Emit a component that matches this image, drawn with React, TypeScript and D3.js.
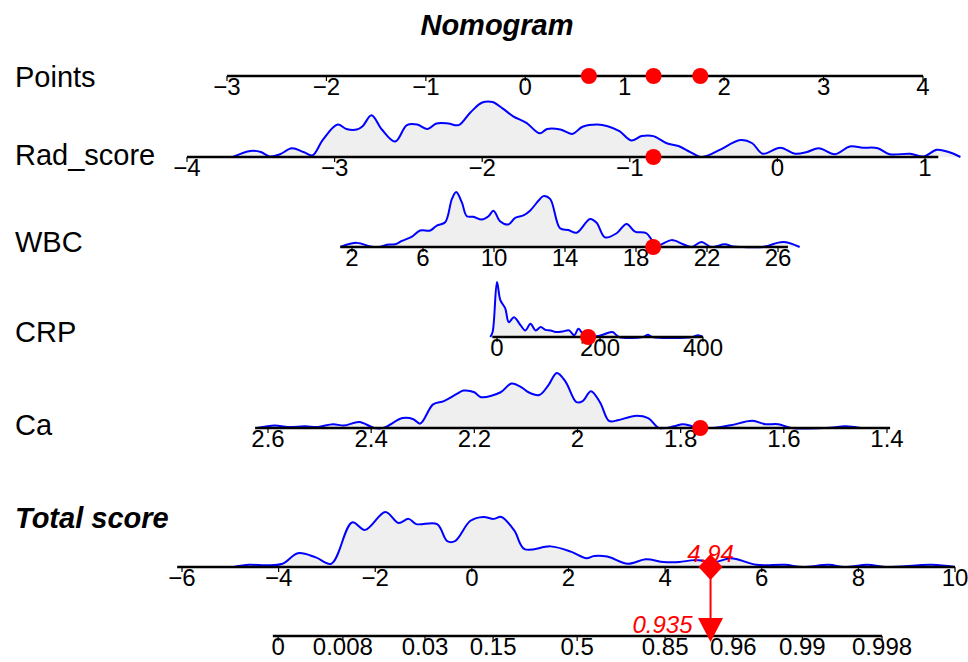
import { useEffect, useRef } from 'react';
import * as d3 from 'd3';

// axis tick values
const pointsTicks = [-3, -2, -1, 0, 1, 2, 3, 4];
const radTicks = [-4, -3, -2, -1, 0, 1];
const wbcTicks = [2, 6, 10, 14, 18, 22, 26];
const crpTicks = [0, 200, 400];
const caTicks = [2.6, 2.4, 2.2, 2, 1.8, 1.6, 1.4];
const totalTicks = [-6, -4, -2, 0, 2, 4, 6, 8, 10];
const probLabels = ['0', '0.008', '0.03', '0.15', '0.5', '0.85', '0.96', '0.99', '0.998'];
// total score at which each probability label sits
const probScores = [-4.01, -2.67, -0.97, 0.44, 2.18, 4.0, 5.41, 6.84, 8.49];

// the observation shown in red
const pointsObs = [0.64, 1.29, 1.76];
const radObs = -0.84;
const wbcObs = 18.97;
const crpObs = 177;
const caObs = 1.762;
const totalObs = 4.94;
const probObs = 0.935;

// densities: [value, relative density]
const radDensity: [number, number][] = [
  [-3.69, 0], [-3.57, 0.11], [-3.5, 0.09], [-3.44, 0.01], [-3.37, 0.05], [-3.29, 0.16], [-3.21, 0.09],
  [-3.15, 0.03], [-3.08, 0.31], [-2.98, 0.59], [-2.92, 0.51], [-2.85, 0.5], [-2.81, 0.56], [-2.75, 0.76],
  [-2.68, 0.5], [-2.59, 0.28], [-2.51, 0.58], [-2.44, 0.59], [-2.37, 0.51], [-2.31, 0.61], [-2.23, 0.61],
  [-2.16, 0.58], [-2.08, 0.81], [-2.0, 0.99], [-1.93, 1.0], [-1.86, 0.88], [-1.79, 0.74], [-1.7, 0.62],
  [-1.61, 0.43], [-1.56, 0.51], [-1.47, 0.5], [-1.39, 0.42], [-1.32, 0.55], [-1.22, 0.59], [-1.15, 0.56],
  [-1.07, 0.47], [-0.99, 0.3], [-0.92, 0.38], [-0.84, 0.38], [-0.75, 0.25], [-0.67, 0.2], [-0.59, 0.09],
  [-0.52, 0], [-0.47, 0.03], [-0.39, 0.13], [-0.25, 0.31], [-0.17, 0.25], [-0.1, 0.06], [0.02, 0.17],
  [0.12, 0.06], [0.2, 0.09], [0.28, 0.16], [0.39, 0.05], [0.49, 0.19], [0.58, 0.17], [0.68, 0.16],
  [0.76, 0.05], [0.9, 0.06], [0.99, 0.01], [1.08, 0.13], [1.16, 0.09], [1.24, 0],
];
const wbcDensity: [number, number][] = [
  [1.34, 0], [2.28, 0.075], [3.03, 0.01], [3.5, 0], [3.97, 0.04], [4.44, 0.05], [4.81, 0.11], [5.38, 0.19],
  [5.84, 0.3], [6.41, 0.3], [6.78, 0.39], [7.25, 0.45], [7.63, 0.875], [7.87, 1.0], [8.19, 0.81], [8.47, 0.56],
  [8.84, 0.55], [9.31, 0.5], [9.69, 0.56], [9.97, 0.66], [10.34, 0.47], [10.81, 0.41], [11.19, 0.53],
  [11.66, 0.575], [12.03, 0.66], [12.5, 0.84], [12.78, 0.925], [13.16, 0.875], [13.72, 0.34], [14.19, 0.31],
  [14.66, 0.26], [15.41, 0.51], [15.78, 0.44], [16.25, 0.175], [16.91, 0.25], [17.47, 0.42], [17.94, 0.28],
  [18.59, 0.25], [18.97, 0.09], [19.25, 0.03], [20.0, 0.125], [20.66, 0.05], [21.13, 0], [21.69, 0.09],
  [22.25, 0], [23.0, 0.05], [23.47, 0.01], [24.03, 0], [25.16, 0], [26.28, 0.09], [27.22, 0],
];
const crpDensity: [number, number][] = [
  [-13, 0], [-8.5, 0.09], [0, 1.0], [6.5, 0.67], [16, 0.52], [23, 0.27], [33, 0.36], [46, 0.21], [55, 0.12],
  [65, 0.24], [75, 0.12], [85, 0.18], [94, 0.13], [104, 0.12], [114, 0.09], [127, 0.1], [140, 0.12],
  [150, 0.03], [158, 0.15], [169, 0.03], [182, 0], [202, 0.03], [224, 0.09], [237, 0], [283, 0],
  [293, 0.04], [302, 0], [380, 0], [390, 0.03], [400, 0],
];
const caDensity: [number, number][] = [
  [2.621, 0], [2.587, 0.044], [2.562, 0.02], [2.528, 0.03], [2.503, 0.02], [2.474, 0.07], [2.453, 0.044],
  [2.423, 0.11], [2.394, 0], [2.377, 0], [2.339, 0.18], [2.318, 0.16], [2.305, 0.08], [2.28, 0.43],
  [2.259, 0.49], [2.234, 0.62], [2.221, 0.68], [2.2, 0.65], [2.187, 0.56], [2.149, 0.65], [2.128, 0.81],
  [2.107, 0.73], [2.095, 0.65], [2.074, 0.6], [2.057, 0.77], [2.04, 1.0], [2.023, 0.84], [2.002, 0.47],
  [1.99, 0.49], [1.974, 0.67], [1.956, 0.46], [1.939, 0.13], [1.922, 0.14], [1.889, 0.22], [1.863, 0.18],
  [1.842, 0], [1.813, 0.03], [1.796, 0.07], [1.771, 0.02], [1.737, 0], [1.703, 0.05], [1.661, 0.13],
  [1.636, 0.07], [1.611, 0.07], [1.585, 0], [1.518, 0], [1.48, 0.03], [1.451, 0],
];
const totalDensity: [number, number][] = [
  [-4.93, 0], [-4.61, 0.04], [-4.24, 0.03], [-3.92, 0.06], [-3.6, 0.25], [-3.23, 0.175], [-2.91, 0.06],
  [-2.48, 0.81], [-2.21, 0.675], [-1.79, 1.0], [-1.52, 0.8], [-1.31, 0.875], [-1.15, 0.78], [-0.72, 0.78],
  [-0.51, 0.47], [-0.35, 0.47], [-0.03, 0.84], [0.24, 0.91], [0.45, 0.875], [0.61, 0.91], [0.88, 0.66],
  [1.09, 0.325], [1.63, 0.375], [2.05, 0.28], [2.37, 0.16], [2.53, 0.2], [2.8, 0.19], [3.23, 0.06],
  [3.6, 0.14], [3.97, 0.09], [4.29, 0.09], [4.61, 0.125], [5.04, 0.09], [5.36, 0.16], [5.89, 0.04],
  [6.48, 0.04], [6.85, 0], [7.39, 0.04], [7.71, 0], [8.19, 0.04], [8.56, 0], [9.52, 0.04], [10.0, 0],
];

const fmt = (d: number) => String(d).replace('-', '\u2212');

export default function App() {
  const ref = useRef<SVGSVGElement | null>(null);

  useEffect(() => {
    document.body.style.margin = '0';
    const el = ref.current;
    if (!el) return;
    const svg = d3.select(el);
    svg.selectAll('*').remove();

    const font = '"Liberation Sans", Arial, Helvetica, sans-serif';
    const densH = 55;

    const rows = [
      { name: 'Points', ly: 87, y: 76, domain: [-3, 4], range: [227, 923], ext: [-3, 4], ticks: pointsTicks, dens: null, obs: pointsObs },
      { name: 'Rad_score', ly: 165, y: 157, domain: [-4, 1], range: [187, 925], ext: [-4, 1.09], ticks: radTicks, dens: radDensity, obs: [radObs] },
      { name: 'WBC', ly: 252, y: 247, domain: [2, 26], range: [352, 778], ext: [1.34, 26.56], ticks: wbcTicks, dens: wbcDensity, obs: [wbcObs] },
      { name: 'CRP', ly: 342, y: 337, domain: [0, 400], range: [497, 703], ext: [-9, 400], ticks: crpTicks, dens: crpDensity, obs: [crpObs] },
      { name: 'Ca', ly: 435, y: 428, domain: [2.6, 1.4], range: [268, 887], ext: [2.625, 1.394], ticks: caTicks, dens: caDensity, obs: [caObs] },
    ];

    // title
    svg.append('text')
      .attr('x', 497).attr('y', 35)
      .attr('text-anchor', 'middle')
      .attr('font-family', font).attr('font-size', 29)
      .attr('font-weight', 'bold').attr('font-style', 'italic')
      .text('Nomogram');

    const drawDensity = (dens: [number, number][], x: d3.ScaleLinear<number, number>, y0: number) => {
      const area = d3.area<[number, number]>()
        .x(d => x(d[0]))
        .y0(y0)
        .y1(d => y0 - d[1] * densH)
        .curve(d3.curveCatmullRom);
      const line = d3.line<[number, number]>()
        .x(d => x(d[0]))
        .y(d => y0 - d[1] * densH)
        .curve(d3.curveCatmullRom);
      svg.append('path').attr('d', area(dens)).attr('fill', '#efefef');
      svg.append('path').attr('d', line(dens)).attr('fill', 'none')
        .attr('stroke', '#0000ff').attr('stroke-width', 2);
    };

    const drawAxis = (x: d3.ScaleLinear<number, number>, y: number, ext: number[], ticks: number[], labels: string[]) => {
      svg.append('line')
        .attr('x1', x(ext[0])).attr('x2', x(ext[1]))
        .attr('y1', y).attr('y2', y)
        .attr('stroke', '#000').attr('stroke-width', 2.5);
      ticks.forEach((t, i) => {
        svg.append('line')
          .attr('x1', x(t)).attr('x2', x(t))
          .attr('y1', y).attr('y2', y + 5)
          .attr('stroke', '#000').attr('stroke-width', 1.2);
        svg.append('text')
          .attr('x', x(t)).attr('y', y + 19)
          .attr('text-anchor', 'middle')
          .attr('font-family', font).attr('font-size', 24)
          .text(labels[i]);
      });
    };

    rows.forEach(r => {
      const x = d3.scaleLinear().domain(r.domain).range(r.range);
      svg.append('text')
        .attr('x', 15).attr('y', r.ly)
        .attr('font-family', font).attr('font-size', 29)
        .text(r.name);
      if (r.dens) drawDensity(r.dens, x, r.y);
      drawAxis(x, r.y, r.ext, r.ticks, r.ticks.map(fmt));
      r.obs.forEach(v => {
        svg.append('circle')
          .attr('cx', x(v)).attr('cy', r.y).attr('r', 8)
          .attr('fill', '#ff0000');
      });
    });

    // total score
    const tx = d3.scaleLinear().domain([-6, 10]).range([182, 955]);
    const ty = 567;
    const py = 636;
    svg.append('text')
      .attr('x', 15).attr('y', 528)
      .attr('font-family', font).attr('font-size', 29)
      .attr('font-weight', 'bold').attr('font-style', 'italic')
      .text('Total score');
    drawDensity(totalDensity, tx, ty);
    drawAxis(tx, ty, [-6.1, 10], totalTicks, totalTicks.map(fmt));

    // probability axis
    drawAxis(tx, py, [-4.12, 8.49], probScores, probLabels);

    // marker + arrow
    const ox = tx(totalObs);
    svg.append('text')
      .attr('x', ox).attr('y', 562)
      .attr('text-anchor', 'middle')
      .attr('font-family', font).attr('font-size', 24).attr('font-style', 'italic')
      .attr('fill', '#ff0000')
      .text(String(totalObs));
    svg.append('line')
      .attr('x1', ox).attr('x2', ox)
      .attr('y1', ty).attr('y2', 620)
      .attr('stroke', '#ff0000').attr('stroke-width', 2);
    svg.append('path')
      .attr('d', `M${ox - 12},${ty}L${ox},${ty - 13}L${ox + 12},${ty}L${ox},${ty + 13}Z`)
      .attr('fill', '#ff0000');
    svg.append('path')
      .attr('d', `M${ox - 12.5},618L${ox + 12.5},618L${ox},642Z`)
      .attr('fill', '#ff0000');
    svg.append('text')
      .attr('x', ox - 18).attr('y', 633)
      .attr('text-anchor', 'end')
      .attr('font-family', font).attr('font-size', 24).attr('font-style', 'italic')
      .attr('fill', '#ff0000')
      .text(String(probObs));
  }, []);

  return <svg ref={ref} width={968} height={662} style={{ display: 'block', background: '#fff' }} />;
}
